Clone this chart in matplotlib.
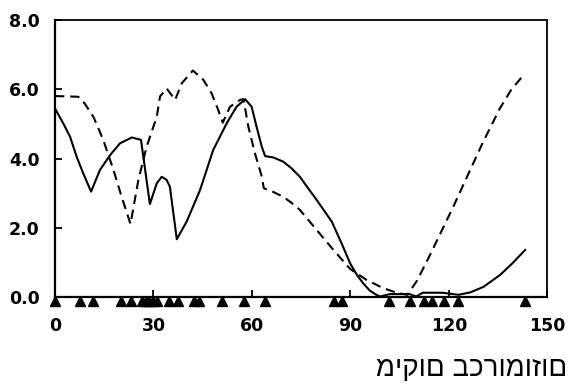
import matplotlib
matplotlib.use("Agg")
import matplotlib.pyplot as plt
import matplotlib.transforms as mtransforms

# Position along the chromosome and the two score profiles
solid_x = [0, 2.5, 4.6, 6.6, 8.6, 11.0, 13.7, 16.8, 19.8, 23.4, 26.2, 28.9, 31.0,
           32.5, 34.0, 35.0, 37.1, 40.1, 44.2, 48.2, 52.3, 55.3, 57.9, 59.9, 61.4,
           63.0, 64.0, 66.5, 69.5, 72.0, 74.6, 77.0, 79.7, 84.3, 87.3, 89.9, 92.0,
           93.9, 95.8, 97.5, 99.0, 102.0, 108.0, 110.0, 112.0, 118.0, 122.9, 126.5,
           130.5, 135.5, 139.5, 143.2]
solid_y = [5.45, 5.02, 4.63, 4.05, 3.57, 3.04, 3.67, 4.10, 4.44, 4.61, 4.54, 2.68, 3.28,
           3.47, 3.38, 3.18, 1.66, 2.17, 3.09, 4.25, 5.02, 5.50, 5.72, 5.50, 4.92,
           4.34, 4.07, 4.03, 3.91, 3.72, 3.47, 3.15, 2.80, 2.17, 1.54, 0.96, 0.62,
           0.38, 0.18, 0.07, 0.0, 0.07, 0.07, 0.0, 0.11, 0.11, 0.05, 0.12, 0.28,
           0.62, 0.98, 1.35]

dashed_x = [0, 7.1, 9.0, 11.7, 14.7, 17.8, 20.3, 23.0, 25.4, 27.9, 31.0, 32.0, 34.0,
            36.6, 38.6, 42.0, 45.2, 47.7, 49.7, 51.1, 53.3, 56.4, 57.4, 58.9, 60.9,
            63.0, 63.6, 66.5, 69.5, 72.0, 74.6, 79.7, 84.8, 89.9, 94.9, 100.0, 104.1,
            107.3, 110.2, 114.2, 118.0, 121.3, 125.4, 130.5, 135.5, 139.0, 143.0]
dashed_y = [5.81, 5.79, 5.60, 5.21, 4.54, 3.67, 2.89, 2.10, 3.38, 4.34, 5.21, 5.80, 6.03,
            5.70, 6.18, 6.55, 6.28, 5.89, 5.41, 5.04, 5.50, 5.70, 5.72, 4.92, 4.15,
            3.47, 3.14, 3.03, 2.89, 2.72, 2.51, 1.93, 1.35, 0.80, 0.48, 0.24, 0.11,
            0.05, 0.45, 1.20, 1.95, 2.60, 3.45, 4.50, 5.45, 6.00, 6.45]

# Marker positions along the chromosome
marker_x = [0, 7.6, 11.6, 20.2, 23.1, 26.4, 27.6, 28.7, 30.0, 31.2, 34.7, 37.5,
            42.3, 43.8, 51.0, 57.5, 63.9, 85.0, 87.4, 101.7, 108.1, 112.4, 114.7,
            118.6, 122.9, 143.3]

x_ticks = [0, 30, 60, 90, 120, 150]
y_ticks = [0, 2, 4, 6, 8]
y_tick_labels = ["0.0", "2.0", "4.0", "6.0", "8.0"]
x_label = "מיקום בכרומוזום"

fig = plt.figure(figsize=(5.71, 3.83), dpi=100)
ax = fig.add_axes([0.0963, 0.2258, 0.8625, 0.7207])

ax.plot(solid_x, solid_y, color="black", lw=1.5, solid_joinstyle="round", zorder=3)
ax.plot(dashed_x, dashed_y, color="black", lw=1.5, dashes=(4.5, 2.8), zorder=3)

# Triangles sit just under the baseline
shift = mtransforms.offset_copy(ax.transData, fig=fig, x=0, y=-3.0, units="points")
ax.plot(marker_x, [0] * len(marker_x), linestyle="none", marker="^", ms=6.5,
        color="black", transform=shift, clip_on=False, zorder=4)

ax.set_xlim(0, 150)
ax.set_ylim(0, 8)
ax.set_xticks(x_ticks)
ax.set_yticks(y_ticks)
ax.set_yticklabels(y_tick_labels)

for side in ("left", "bottom"):
    ax.spines[side].set_linewidth(1.6)
for side in ("top", "right"):
    ax.spines[side].set_linewidth(1.3)

ax.tick_params(axis="both", direction="in", length=5, width=1.3, colors="black",
               labelsize=12.5)
ax.tick_params(axis="x", pad=15)
ax.tick_params(axis="y", pad=11)
for lbl in ax.get_xticklabels() + ax.get_yticklabels():
    lbl.set_fontweight("bold")
    lbl.set_family("DejaVu Sans")

fig.text(0.993, 0.018, x_label, ha="right", va="baseline",
         fontsize=20, family=["Liberation Sans", "DejaVu Sans"])

fig.savefig("out.png", dpi=100)
